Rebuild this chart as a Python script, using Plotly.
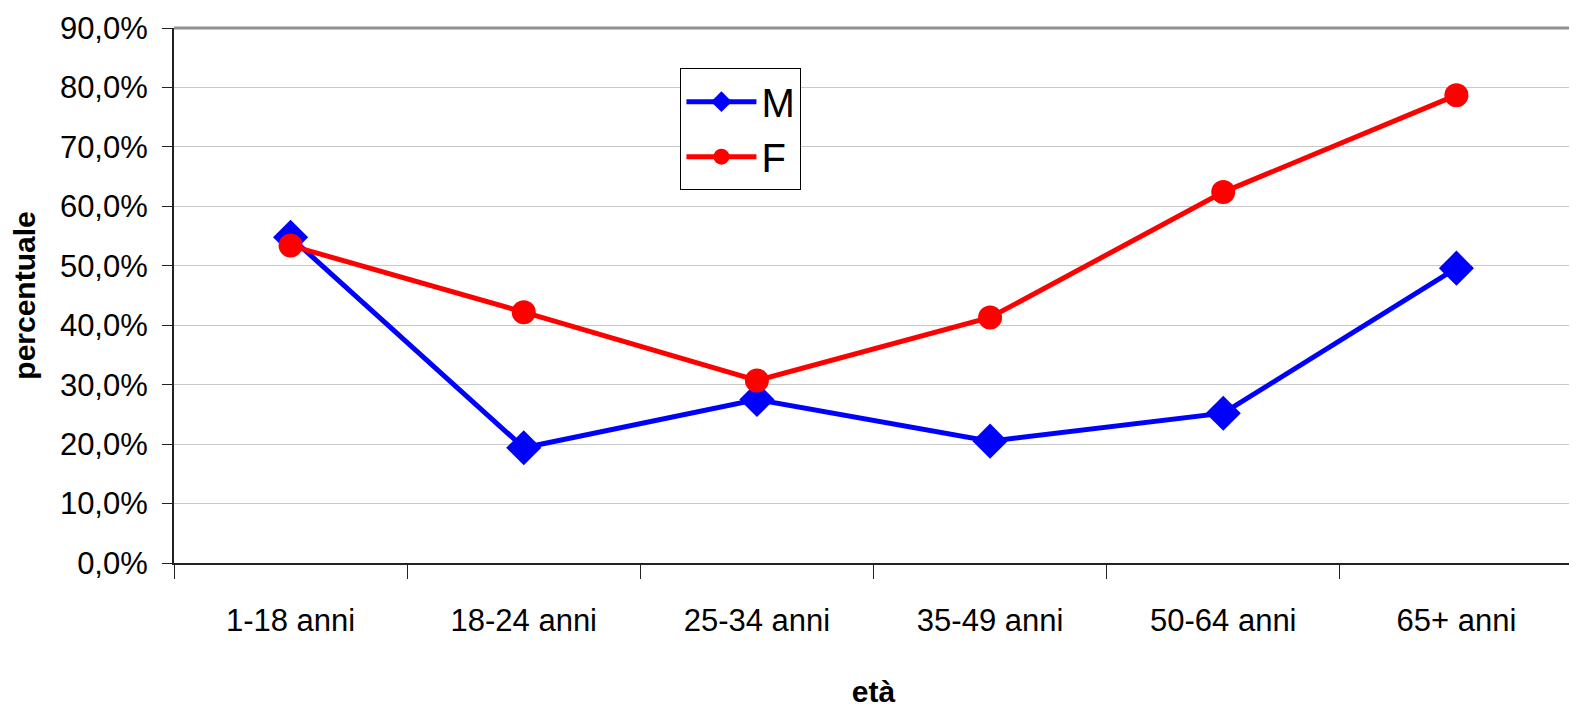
import plotly.graph_objects as go

# age groups and share per sex
eta = ['1-18 anni', '18-24 anni', '25-34 anni', '35-49 anni', '50-64 anni', '65+ anni']
maschi = [0.548, 0.194, 0.275, 0.205, 0.252, 0.496]
femmine = [0.534, 0.422, 0.307, 0.413, 0.624, 0.787]

font_fam = 'Liberation Sans, Arial, sans-serif'

fig = go.Figure()
fig.add_trace(go.Scatter(x=eta, y=maschi, mode='lines+markers', name='M',
                         line=dict(color='#0000ff', width=5),
                         marker=dict(symbol='diamond', size=27, color='#0000ff')))
fig.add_trace(go.Scatter(x=eta, y=femmine, mode='lines+markers', name='F',
                         line=dict(color='#ff0000', width=5),
                         marker=dict(symbol='circle', size=24, color='#ff0000')))

# page body has an 8px margin, so the figure is a bit smaller and shifted
fig.update_layout(
    width=1569, height=700,
    margin=dict(l=166, r=4, t=20, b=145),
    paper_bgcolor='white', plot_bgcolor='white',
    separators=',.',
    font=dict(family=font_fam, color='black', size=31),
    showlegend=True,
    legend=dict(x=0.362, y=0.925, xanchor='left', yanchor='top',
                bordercolor='black', borderwidth=1, bgcolor='white',
                font=dict(size=40), itemwidth=70),
    xaxis=dict(title=dict(text='<b>età</b>', font=dict(size=30), standoff=46),
               range=[-0.5, len(eta) - 0.5],
               showline=True, linecolor='#222222', linewidth=2,
               ticks='outside', tickson='boundaries', ticklen=14, tickcolor='#222222',
               tickfont=dict(size=31), ticklabelstandoff=29,
               showgrid=False, automargin=False),
    yaxis=dict(title=dict(text='<b>percentuale</b>', font=dict(size=30), standoff=26),
               range=[0, 0.9], dtick=0.1, tickformat='.1%',
               showline=True, linecolor='#222222', linewidth=2,
               ticks='outside', ticklen=10, tickcolor='#222222',
               tickfont=dict(size=31), ticklabelstandoff=8, automargin=False,
               gridcolor='#c8c8c8', gridwidth=1, zeroline=False),
)
# grey top frame line of the plot area
fig.add_shape(type='line', xref='paper', yref='paper', x0=0, x1=1, y0=1, y1=1,
              line=dict(color='#909090', width=3))

fig.write_html('out.html')
